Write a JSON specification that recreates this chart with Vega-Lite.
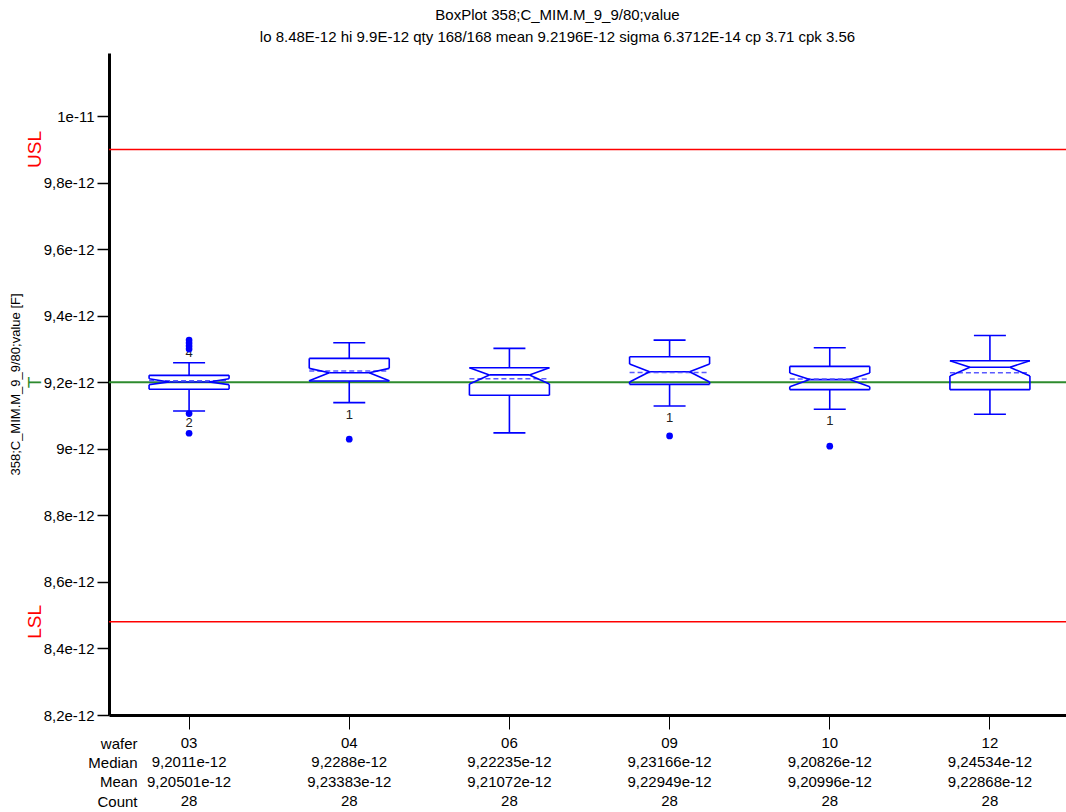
{
  "$schema": "https://vega.github.io/schema/vega-lite/v6.json",
  "autosize": {"type": "none"},
  "padding": {"left": 109, "top": 53, "right": 0, "bottom": 97},
  "width": 957,
  "height": 662,
  "title": {
    "text": ["BoxPlot 358;C_MIM.M_9_9/80;value", "lo 8.48E-12 hi 9.9E-12 qty 168/168 mean 9.2196E-12 sigma 6.3712E-14 cp 3.71 cpk 3.56"],
    "fontSize": 15,
    "fontWeight": "normal",
    "font": "Liberation Sans",
    "color": "#000000",
    "lineHeight": 22,
    "anchor": "middle",
    "offset": 8,
    "dx": -30
  },
  "config": {
    "view": {"stroke": null},
    "font": "Liberation Sans",
    "locale": {"number": {"decimal": ",", "thousands": ".", "grouping": [3], "currency": ["", ""]}}
  },
  "datasets": {
    "boxes": [
      {"wafer": "03", "q1": 9.179e-12, "q3": 9.221e-12, "median": 9.2011e-12, "mean": 9.20501e-12, "nlo": 9.193e-12, "nhi": 9.211e-12, "whLo": 9.114e-12, "whHi": 9.259e-12, "count": 28, "outHi": 4, "outLo": 2},
      {"wafer": "04", "q1": 9.204e-12, "q3": 9.272e-12, "median": 9.2288e-12, "mean": 9.23383e-12, "nlo": 9.205e-12, "nhi": 9.242e-12, "whLo": 9.139e-12, "whHi": 9.319e-12, "count": 28, "outHi": 0, "outLo": 1},
      {"wafer": "06", "q1": 9.161e-12, "q3": 9.244e-12, "median": 9.22235e-12, "mean": 9.21072e-12, "nlo": 9.195e-12, "nhi": 9.244e-12, "whLo": 9.048e-12, "whHi": 9.302e-12, "count": 28, "outHi": 0, "outLo": 0},
      {"wafer": "09", "q1": 9.194e-12, "q3": 9.277e-12, "median": 9.23166e-12, "mean": 9.22949e-12, "nlo": 9.201e-12, "nhi": 9.255e-12, "whLo": 9.129e-12, "whHi": 9.327e-12, "count": 28, "outHi": 0, "outLo": 1},
      {"wafer": "10", "q1": 9.178e-12, "q3": 9.248e-12, "median": 9.20826e-12, "mean": 9.20996e-12, "nlo": 9.187e-12, "nhi": 9.228e-12, "whLo": 9.119e-12, "whHi": 9.304e-12, "count": 28, "outHi": 0, "outLo": 1},
      {"wafer": "12", "q1": 9.178e-12, "q3": 9.265e-12, "median": 9.24534e-12, "mean": 9.22868e-12, "nlo": 9.219e-12, "nhi": 9.265e-12, "whLo": 9.104e-12, "whHi": 9.341e-12, "count": 28, "outHi": 0, "outLo": 0}
    ],
    "outliers": [
      {"wafer": "03", "value": 9.327e-12},
      {"wafer": "03", "value": 9.318e-12},
      {"wafer": "03", "value": 9.309e-12},
      {"wafer": "03", "value": 9.300e-12},
      {"wafer": "03", "value": 9.106e-12},
      {"wafer": "03", "value": 9.047e-12},
      {"wafer": "04", "value": 9.029e-12},
      {"wafer": "09", "value": 9.039e-12},
      {"wafer": "10", "value": 9.008e-12}
    ],
    "limits": [
      {"name": "USL", "value": 9.9e-12},
      {"name": "LSL", "value": 8.48e-12},
      {"name": "T", "value": 9.2e-12}
    ]
  },
  "resolve": {"scale": {"y": "independent"}, "axis": {"y": "independent"}},
  "layer": [
    {
      "layer": [
        {
          "data": {"name": "limits"},
          "transform": [{"filter": "datum.name != 'T'"}],
          "mark": {"type": "rule", "color": "#ff0000", "strokeWidth": 1.5},
          "encoding": {
            "y": {
              "field": "value", "type": "quantitative",
              "scale": {"domain": [8.2e-12, 1.019e-11], "nice": false, "zero": false},
              "axis": {
                "orient": "left",
                "values": [8.2e-12, 8.3e-12, 8.4e-12, 8.5e-12, 8.6e-12, 8.7e-12, 8.8e-12, 8.9e-12, 9.0e-12, 9.1e-12, 9.2e-12, 9.3e-12, 9.4e-12, 9.5e-12, 9.6e-12, 9.7e-12, 9.8e-12, 9.9e-12, 1.0e-11, 1.01e-11],
                "labelExpr": "(round(datum.value*1e13) % 2 == 0) ? (datum.value > 9.99e-12 ? '1e-11' : replace(format(datum.value*1e12, '.1~f'), '.', ',') + 'e-12') : ''",
                "tickSize": {"condition": {"test": "round(datum.value*1e13) % 2 == 0", "value": 12}, "value": 7},
                "tickColor": "#000000",
                "tickWidth": 1.5,
                "domainColor": "#000000",
                "domainWidth": 3,
                "grid": false,
                "labelFontSize": 15,
                "labelColor": "#000000",
                "labelPadding": 3,
                "labelFont": "Liberation Sans",
                "title": "358;C_MIM.M_9_9/80;value [F]",
                "titleFontSize": 13,
                "titleFontWeight": "normal",
                "titleColor": "#000000",
                "titleFont": "Liberation Sans",
                "titlePadding": 21
              }
            }
          }
        },
        {
          "data": {"name": "limits"},
          "transform": [{"filter": "datum.name == 'T'"}],
          "mark": {"type": "rule", "color": "#2e8b2e", "strokeWidth": 2},
          "encoding": {"y": {"field": "value", "type": "quantitative"}}
        },
        {
          "data": {"name": "limits"},
          "mark": {"type": "text", "angle": 270, "align": "center", "baseline": "middle", "fontSize": 19},
          "encoding": {
            "x": {"value": -74},
            "y": {"field": "value", "type": "quantitative"},
            "text": {"field": "name"},
            "color": {"field": "name", "type": "nominal", "scale": {"domain": ["USL", "LSL", "T"], "range": ["#ff0000", "#ff0000", "#2e8b2e"]}, "legend": null}
          }
        },
        {
          "data": {"name": "boxes"},
          "layer": [
            {
              "mark": {"type": "rule", "color": "#0000ff", "strokeWidth": 1.6},
              "encoding": {
                "x": {"field": "wafer", "type": "nominal", "bandPosition": 0.5,
                  "scale": {"type": "band", "range": [0, 961], "paddingInner": 0, "paddingOuter": 0},
                  "axis": {"labels": false, "title": null, "domainColor": "#000000", "domainWidth": 3, "tickColor": "#000000", "tickSize": 14, "tickWidth": 1, "grid": false}},
                "y": {"field": "q3", "type": "quantitative"},
                "y2": {"field": "whHi"}
              }
            },
            {
              "mark": {"type": "rule", "color": "#0000ff", "strokeWidth": 1.6},
              "encoding": {
                "x": {"field": "wafer", "type": "nominal", "bandPosition": 0.5},
                "y": {"field": "whLo", "type": "quantitative"},
                "y2": {"field": "q1"}
              }
            },
            {
              "mark": {"type": "rule", "color": "#0000ff", "strokeWidth": 1.6, "xOffset": -16, "x2Offset": 16},
              "encoding": {
                "x": {"field": "wafer", "type": "nominal", "bandPosition": 0.5},
                "x2": {"field": "wafer", "bandPosition": 0.5},
                "y": {"field": "whHi", "type": "quantitative"}
              }
            },
            {
              "mark": {"type": "rule", "color": "#0000ff", "strokeWidth": 1.6, "xOffset": -16, "x2Offset": 16},
              "encoding": {
                "x": {"field": "wafer", "type": "nominal", "bandPosition": 0.5},
                "x2": {"field": "wafer", "bandPosition": 0.5},
                "y": {"field": "whLo", "type": "quantitative"}
              }
            },
            {
              "mark": {"type": "rule", "color": "#0000ff", "strokeWidth": 1.6, "xOffset": -40, "x2Offset": 40},
              "encoding": {
                "x": {"field": "wafer", "type": "nominal", "bandPosition": 0.5},
                "x2": {"field": "wafer", "bandPosition": 0.5},
                "y": {"field": "q3", "type": "quantitative"}
              }
            },
            {
              "mark": {"type": "rule", "color": "#0000ff", "strokeWidth": 1.6, "xOffset": -40, "x2Offset": 40},
              "encoding": {
                "x": {"field": "wafer", "type": "nominal", "bandPosition": 0.5},
                "x2": {"field": "wafer", "bandPosition": 0.5},
                "y": {"field": "q1", "type": "quantitative"}
              }
            },
            {
              "mark": {"type": "rule", "color": "#0000ff", "strokeWidth": 1.6, "xOffset": -20, "x2Offset": 20},
              "encoding": {
                "x": {"field": "wafer", "type": "nominal", "bandPosition": 0.5},
                "x2": {"field": "wafer", "bandPosition": 0.5},
                "y": {"field": "median", "type": "quantitative"}
              }
            },
            {
              "mark": {"type": "rule", "color": "#5a5aff", "strokeWidth": 1.5, "strokeDash": [5, 3], "xOffset": -40, "x2Offset": 40},
              "encoding": {
                "x": {"field": "wafer", "type": "nominal", "bandPosition": 0.5},
                "x2": {"field": "wafer", "bandPosition": 0.5},
                "y": {"field": "mean", "type": "quantitative"}
              }
            },
            {
              "mark": {"type": "rule", "color": "#0000ff", "strokeWidth": 1.6, "xOffset": -40},
              "encoding": {
                "x": {"field": "wafer", "type": "nominal", "bandPosition": 0.5},
                "y": {"field": "q1", "type": "quantitative"},
                "y2": {"field": "nlo"}
              }
            },
            {
              "mark": {"type": "rule", "color": "#0000ff", "strokeWidth": 1.6, "xOffset": 40},
              "encoding": {
                "x": {"field": "wafer", "type": "nominal", "bandPosition": 0.5},
                "y": {"field": "q1", "type": "quantitative"},
                "y2": {"field": "nlo"}
              }
            },
            {
              "mark": {"type": "rule", "color": "#0000ff", "strokeWidth": 1.6, "xOffset": -40},
              "encoding": {
                "x": {"field": "wafer", "type": "nominal", "bandPosition": 0.5},
                "y": {"field": "nhi", "type": "quantitative"},
                "y2": {"field": "q3"}
              }
            },
            {
              "mark": {"type": "rule", "color": "#0000ff", "strokeWidth": 1.6, "xOffset": 40},
              "encoding": {
                "x": {"field": "wafer", "type": "nominal", "bandPosition": 0.5},
                "y": {"field": "nhi", "type": "quantitative"},
                "y2": {"field": "q3"}
              }
            },
            {
              "mark": {"type": "rule", "color": "#0000ff", "strokeWidth": 1.6, "xOffset": -40, "x2Offset": -20},
              "encoding": {
                "x": {"field": "wafer", "type": "nominal", "bandPosition": 0.5},
                "x2": {"field": "wafer", "bandPosition": 0.5},
                "y": {"field": "nlo", "type": "quantitative"},
                "y2": {"field": "median"}
              }
            },
            {
              "mark": {"type": "rule", "color": "#0000ff", "strokeWidth": 1.6, "xOffset": -40, "x2Offset": -20},
              "encoding": {
                "x": {"field": "wafer", "type": "nominal", "bandPosition": 0.5},
                "x2": {"field": "wafer", "bandPosition": 0.5},
                "y": {"field": "nhi", "type": "quantitative"},
                "y2": {"field": "median"}
              }
            },
            {
              "mark": {"type": "rule", "color": "#0000ff", "strokeWidth": 1.6, "xOffset": 40, "x2Offset": 20},
              "encoding": {
                "x": {"field": "wafer", "type": "nominal", "bandPosition": 0.5},
                "x2": {"field": "wafer", "bandPosition": 0.5},
                "y": {"field": "nlo", "type": "quantitative"},
                "y2": {"field": "median"}
              }
            },
            {
              "mark": {"type": "rule", "color": "#0000ff", "strokeWidth": 1.6, "xOffset": 40, "x2Offset": 20},
              "encoding": {
                "x": {"field": "wafer", "type": "nominal", "bandPosition": 0.5},
                "x2": {"field": "wafer", "bandPosition": 0.5},
                "y": {"field": "nhi", "type": "quantitative"},
                "y2": {"field": "median"}
              }
            },
            {
              "transform": [{"filter": "datum.outHi > 0"}],
              "mark": {"type": "text", "fontSize": 13, "color": "#222222", "baseline": "middle", "dy": -10},
              "encoding": {
                "x": {"field": "wafer", "type": "nominal"},
                "y": {"field": "whHi", "type": "quantitative"},
                "text": {"field": "outHi"}
              }
            },
            {
              "transform": [{"filter": "datum.outLo > 0"}],
              "mark": {"type": "text", "fontSize": 13, "color": "#222222", "baseline": "middle", "dy": 12},
              "encoding": {
                "x": {"field": "wafer", "type": "nominal"},
                "y": {"field": "whLo", "type": "quantitative"},
                "text": {"field": "outLo"}
              }
            }
          ]
        },
        {
          "data": {"name": "outliers"},
          "mark": {"type": "circle", "color": "#0000ff", "size": 45, "opacity": 1},
          "encoding": {
            "x": {"field": "wafer", "type": "nominal"},
            "y": {"field": "value", "type": "quantitative"}
          }
        }
      ]
    },
    {
      "data": {"name": "boxes"},
      "layer": [
        {
          "mark": {"type": "text", "fontSize": 15, "color": "#000000", "baseline": "middle"},
          "encoding": {
            "x": {"field": "wafer", "type": "nominal"},
            "y": {
              "datum": "wafer", "type": "nominal",
              "scale": {"type": "point", "domain": ["wafer", "Median", "Mean", "Count"], "range": [690, 748], "padding": 0},
              "axis": {"orient": "left", "offset": -28, "domain": false, "ticks": false, "tickSize": 0, "labelPadding": 0, "labelFontSize": 15, "labelColor": "#000000", "labelFont": "Liberation Sans", "title": null, "grid": false}
            },
            "text": {"field": "wafer"}
          }
        },
        {
          "mark": {"type": "text", "fontSize": 15, "color": "#000000", "baseline": "middle"},
          "encoding": {
            "x": {"field": "wafer", "type": "nominal"},
            "y": {"datum": "Median", "type": "nominal"},
            "text": {"field": "median", "type": "quantitative", "format": "~e"}
          }
        },
        {
          "mark": {"type": "text", "fontSize": 15, "color": "#000000", "baseline": "middle"},
          "encoding": {
            "x": {"field": "wafer", "type": "nominal"},
            "y": {"datum": "Mean", "type": "nominal"},
            "text": {"field": "mean", "type": "quantitative", "format": "~e"}
          }
        },
        {
          "mark": {"type": "text", "fontSize": 15, "color": "#000000", "baseline": "middle"},
          "encoding": {
            "x": {"field": "wafer", "type": "nominal"},
            "y": {"datum": "Count", "type": "nominal"},
            "text": {"field": "count", "type": "quantitative"}
          }
        }
      ]
    }
  ]
}
